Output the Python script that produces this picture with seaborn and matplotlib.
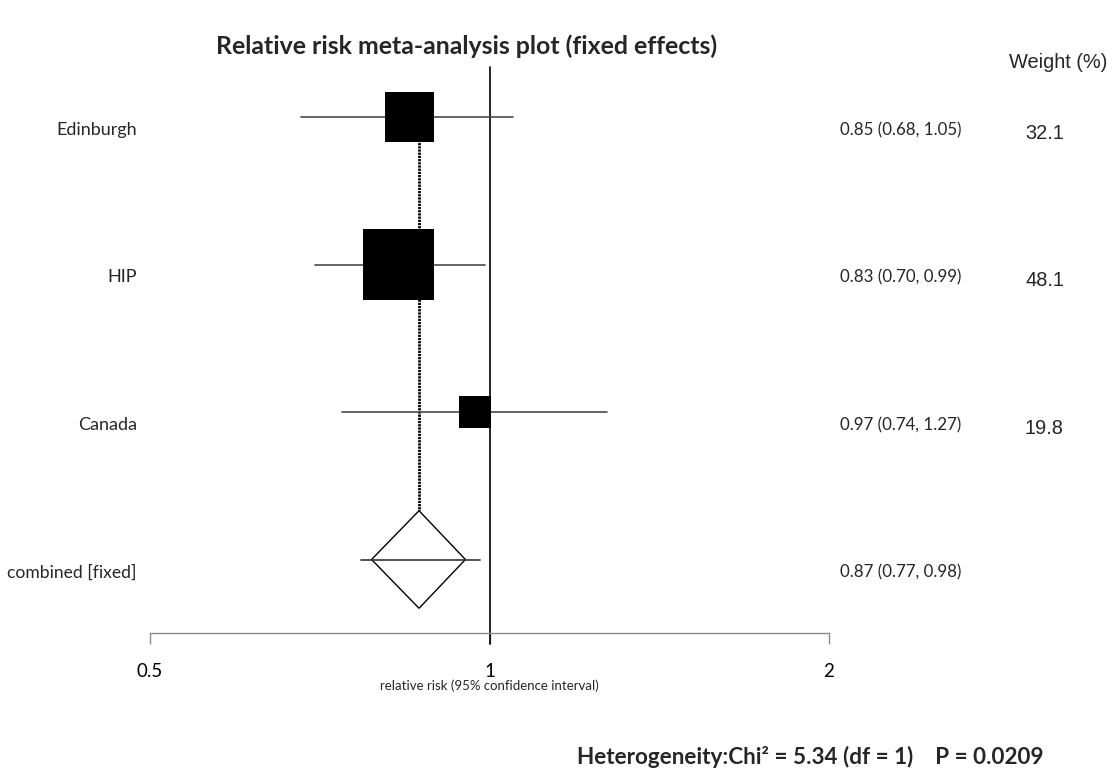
import numpy as np
import pandas as pd
import matplotlib
matplotlib.use("Agg")
import matplotlib.pyplot as plt
from matplotlib.ticker import NullLocator
import seaborn as sns

# ---------------- data ----------------
studies = ["Edinburgh", "HIP", "Canada"]
rr = [0.85, 0.83, 0.97]
ci_low = [0.68, 0.70, 0.74]
ci_high = [1.05, 0.99, 1.27]
weights = [32.1, 48.1, 19.8]
summary_label = "combined [fixed]"
summary_rr = 0.866
summary_ci = [0.77, 0.98]
summary_diamond = [0.786, 0.952]
x_ticks = [0.5, 1, 2]
x_tick_labels = ["0.5", "1", "2"]
chi2_value = 5.34
chi2_df = 1
p_value = 0.0209
title = "Relative risk meta-analysis plot (fixed effects)"
xlabel = "relative risk (95% confidence interval)"

# ---------------- layout ----------------
W, H = 1115, 769
sns.set_style("white")
plt.rcParams["font.family"] = ["Lato", "DejaVu Sans"]

fig = plt.figure(figsize=(W / 100, H / 100), dpi=100)
ax = fig.add_axes([0, 0, 1, 1])
ax.set_xscale("log", base=2)

PX_HALF, PX_TWO = 150.0, 829.0           # pixel x of 0.5 and 2
UNIT = (PX_TWO - PX_HALF) / 2.0          # pixels per doubling
ROW_PX, ROW1_PX = 147.5, 559.5           # row spacing, pixel y of row 1
xmin = 0.5 * 2 ** (-PX_HALF / UNIT)
xmax = 2.0 * 2 ** ((W - PX_TWO) / UNIT)
ymin = 1 - (H - ROW1_PX) / ROW_PX
ymax = 1 + ROW1_PX / ROW_PX
ax.set_xlim(xmin, xmax)
ax.set_ylim(ymin, ymax)


def px2x(px):
    return xmin * 2 ** (px / UNIT)


def py2y(py):
    return 1 + (ROW1_PX - py) / ROW_PX


rows = [4, 3, 2]
summary_row = 1

# axis
for s in ["top", "left", "right"]:
    ax.spines[s].set_visible(False)
ax.spines["bottom"].set_position(("data", py2y(633.3)))
ax.spines["bottom"].set_bounds(x_ticks[0], x_ticks[-1])
ax.spines["bottom"].set_color("#8a8a8a")
ax.spines["bottom"].set_linewidth(1.0)
ax.set_xticks(x_ticks)
ax.set_xticklabels(x_tick_labels)
ax.xaxis.set_minor_locator(NullLocator())
ax.tick_params(axis="x", which="major", bottom=True, direction="out", length=7.8,
               width=1.0, color="#8a8a8a", pad=13.5, labelsize=13.5,
               labelcolor="black")
ax.set_yticks([])

# reference line at 1
ax.plot([1, 1], [py2y(644), py2y(67)], color="black", lw=1.2, zorder=2)

# vertical dotted line at the pooled estimate
dh = 48.8 / ROW_PX
ax.plot([summary_rr, summary_rr], [rows[0], summary_row + dh], color="black",
        lw=2.0, linestyle=(0, (0.8, 0.35)), zorder=1)

# CI lines
for r, lo, hi in zip(rows, ci_low, ci_high):
    ax.plot([lo, hi], [r, r], color="#4a4a4a", lw=1.2, zorder=2)

# squares (size proportional to weight)
df = pd.DataFrame({"rr": rr, "row": rows, "weight": weights})
size_map = {w: ((4.6 + 1.385 * w) * 0.72) ** 2 for w in weights}
sns.scatterplot(data=df, x="rr", y="row", size="weight", sizes=size_map,
                marker="s", color="black", linewidth=0, legend=False, ax=ax, zorder=3)

# summary diamond
dx = [summary_diamond[0], summary_rr, summary_diamond[1], summary_rr]
dy = [summary_row, summary_row + dh, summary_row, summary_row - dh]
ax.fill(dx, dy, facecolor="white", edgecolor="black", lw=1.0, zorder=3)
ax.plot(summary_ci, [summary_row, summary_row], color="#333333", lw=1.2, zorder=4)

ax.set_xlabel("")
ax.set_ylabel("")

lab_off = 13 / ROW_PX
wt_off = 16.5 / ROW_PX
for r, name in zip(rows, studies):
    ax.text(px2x(137), r - lab_off, name, ha="right", va="center", fontsize=13.0)
ax.text(px2x(137), summary_row - lab_off, summary_label, ha="right", va="center",
        fontsize=12.6)

for r, e, lo, hi in zip(rows, rr, ci_low, ci_high):
    ax.text(px2x(840), r - lab_off, f"{e:.2f} ({lo:.2f}, {hi:.2f})", ha="left",
            va="center", fontsize=12.2)
ax.text(px2x(840), summary_row - lab_off,
        f"{summary_rr:.2f} ({summary_ci[0]:.2f}, {summary_ci[1]:.2f})",
        ha="left", va="center", fontsize=12.2)

for r, w in zip(rows, weights):
    ax.text(px2x(1025), r - wt_off, f"{w:.1f}", ha="left", va="center",
            fontsize=14.4, family=["Liberation Sans"])
ax.text(px2x(1009), py2y(62), "Weight (%)", ha="left", va="center",
        fontsize=14.4, family=["Liberation Sans"])

ax.text(1, py2y(686), xlabel, ha="center", va="center", fontsize=9.5)

ax.text(px2x(467), py2y(46), title, ha="center", va="center", fontsize=17.9,
        fontweight="bold")

het = f"Heterogeneity:Chi\u00b2 = {chi2_value:.2f} (df = {chi2_df})    P = {p_value:.4f}"
ax.text(px2x(810), py2y(757), het, ha="center", va="center", fontsize=16.2,
        fontweight="bold")

fig.savefig("out.png", dpi=100)
